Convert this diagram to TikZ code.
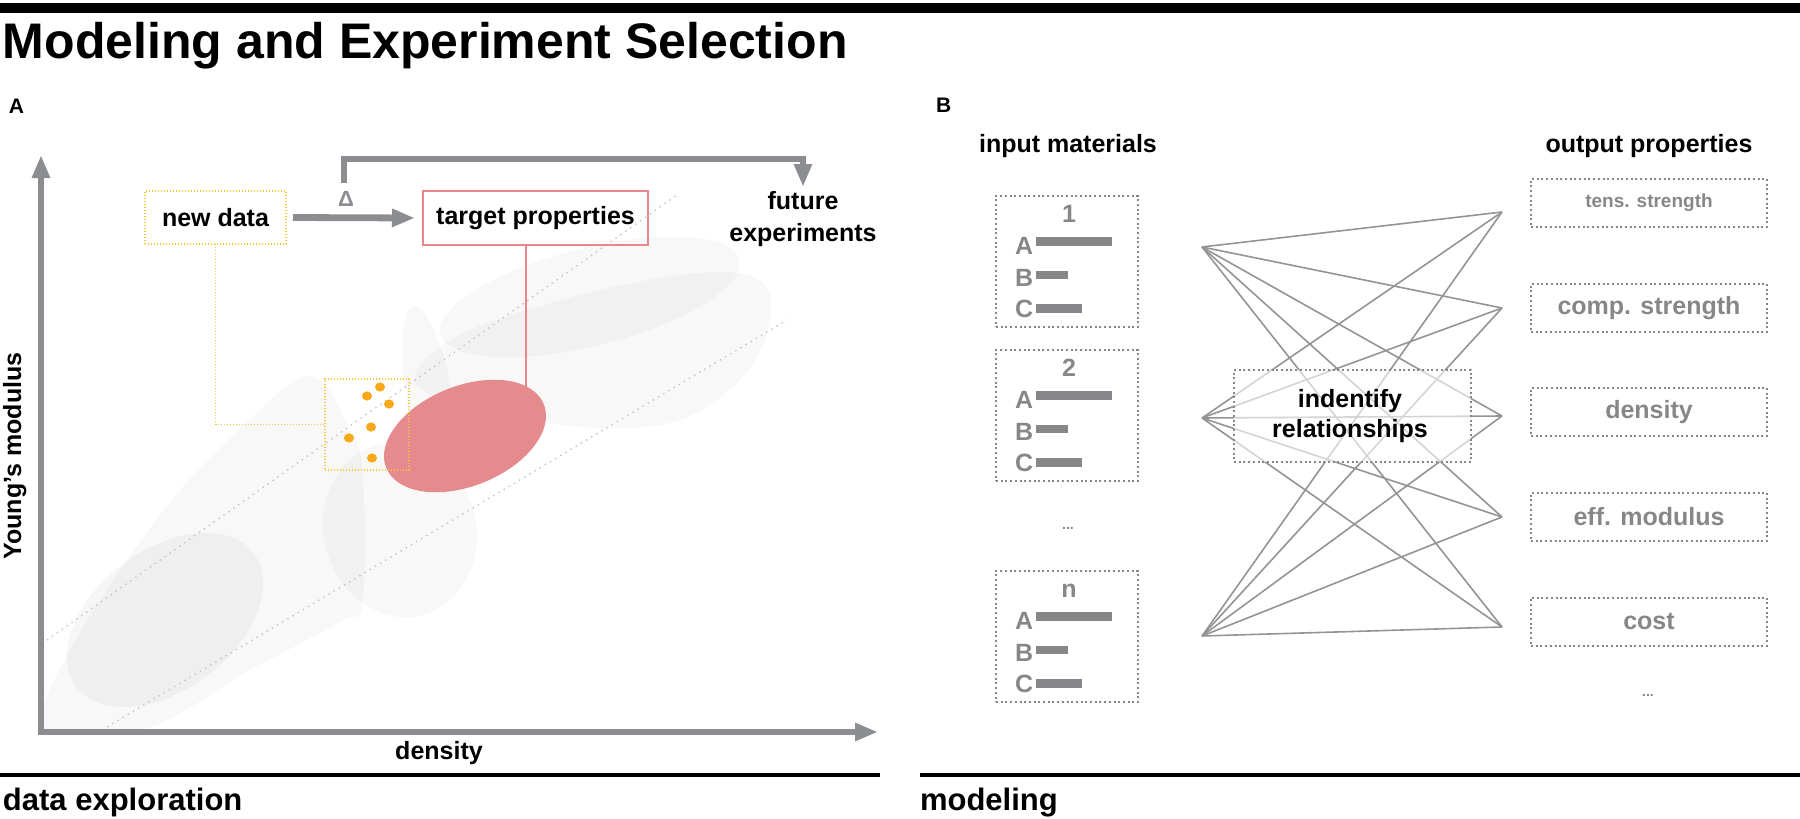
\documentclass[tikz,border=0pt]{standalone}
\usepackage{fontspec}
\setmainfont{Liberation Sans}
\usetikzlibrary{arrows.meta}
\definecolor{axgray}{RGB}{140,141,145}
\definecolor{tgray}{RGB}{135,135,138}
\definecolor{lgray}{RGB}{148,148,150}
\definecolor{dotgray}{RGB}{196,196,196}
\definecolor{orgbox}{RGB}{246,196,70}
\definecolor{orgdot}{RGB}{249,168,26}
\definecolor{pinkline}{RGB}{232,134,140}
\definecolor{pinkfill}{RGB}{229,139,142}
\begin{document}
\begin{tikzpicture}[x=0.5pt,y=-0.5pt,
  every node/.style={inner sep=0pt, outer sep=0pt},
  lblfont/.style={font=\bfseries\fontsize{12.5}{16}\selectfont},
  capfont/.style={font=\bfseries\fontsize{15.5}{18}\selectfont},
  panelfont/.style={font=\bfseries\fontsize{10.5}{12}\selectfont},
  grayfont/.style={font=\bfseries\fontsize{12.5}{15}\selectfont, text=tgray},
  garrow/.style={draw=axgray, line width=3.4pt, line join=miter, -{Triangle[length=11.5pt,width=8.5pt]}},
  blob/.style={fill=black, fill opacity=0.026},
  gbox/.style={draw=tgray, line width=1pt, dash pattern=on 1pt off 1.35pt},
  obox/.style={draw=orgbox, line width=0.6pt, dash pattern=on 0.6pt off 0.9pt},
  diag/.style={draw=dotgray, line width=0.7pt, dash pattern=on 0.7pt off 2.3pt},
  netline/.style={draw=lgray, line width=0.8pt},
  sepline/.style={draw=black, line width=1.6pt}
]
\useasboundingbox (0,0) rectangle (1800,819);

% top bar and title
\fill[black] (0,3) rectangle (1800,13);
\node[anchor=base west, font=\bfseries\fontsize{25}{30}\selectfont] (title) at (3,58) {Modeling and Experiment Selection};

% ---------------- Panel A ----------------
\node[panelfont, anchor=base west] (labA) at (9,113) {A};

% background blobs
\begin{scope}
\clip (44,150) rectangle (900,729);
\fill[blob] plot[smooth cycle, tension=0.6] coordinates {(45,700) (100,600) (180,490) (260,410) (300,378) (325,385) (345,420) (362,465) (363,600) (340,622) (250,670) (150,727) (45,735)};
\fill[fill=black, fill opacity=0.035, rotate around={37:(165,620)}] (165,620) ellipse (111 and 70);
\fill[blob, rotate around={15:(400,530)}] (400,530) ellipse (76 and 88);
\fill[blob, rotate around={14:(590,297)}] (590,297) ellipse (154 and 49);
\fill[blob] plot[smooth cycle, tension=0.6] coordinates {(417,370) (470,330) (600,290) (713,272) (765,285) (768,330) (740,380) (680,420) (600,428) (500,415) (430,395)};
\fill[blob, rotate around={10:(430,400)}] (430,400) ellipse (23 and 95);
\end{scope}

% dotted diagonal guide lines
\coordinate (d1a) at (47,640); \coordinate (d1b) at (677,195);
\coordinate (d2a) at (102,730); \coordinate (d2b) at (787,320);
\draw[diag] (d1a) -- (d1b);
\draw[diag] (d2a) -- (d2b);

% axes
\coordinate (ytop) at (41,155);
\coordinate (orig) at (41,732);
\coordinate (xend) at (878,732);
\draw[draw=axgray, line width=3.4pt, line join=miter, {Triangle[length=11.5pt,width=8.5pt]}-{Triangle[length=11.5pt,width=8.5pt]}] (ytop) -- (orig) -- (xend);
\node[lblfont, rotate=90, anchor=base] (ylab) at (21,456) {Young’s modulus};
\node[lblfont, anchor=base] (xlab) at (439,759) {density};

% pink target ellipse
\fill[pinkfill, rotate around={22:(465,436)}] (465,436) ellipse (85 and 50);

% orange selection box and dots
\node[obox, minimum width=42pt, minimum height=45.5pt] (obox) at (367,424.5) {};
\foreach \px/\py in {380/387, 367/396, 389/404, 371/427, 349/438, 372/458}
  \fill[orgdot] (\px,\py) ellipse (5 and 4.6);

% boxes
\node[obox, minimum width=70.5pt, minimum height=26.5pt, lblfont] (newdata) at (215.5,217.5) {new data};
\node[draw=pinkline, line width=1.4pt, minimum width=112.5pt, minimum height=27pt, lblfont] (target) at (535.5,218) {target properties};
\node[lblfont, align=center, anchor=north] (future) at (803,191) {future\\experiments};
\node[font=\bfseries\fontsize{11}{13}\selectfont, text=axgray] (delta) at (346,199) {Δ};

% arrows
\draw[garrow] ([xshift=3.5pt]newdata.east) -- ([xshift=-4pt]target.west);
\coordinate (fb) at (344,183);
\draw[garrow] (fb) -- (344,159) -| ([yshift=2pt]future.north);

% connectors
\draw[obox] (newdata.south) |- (obox.west);
\coordinate (pinktop) at (526,388);
\draw[draw=pinkline, line width=1.1pt] (pinktop |- target.south) -- (pinktop);

% bottom caption A
\coordinate (sepA1) at (0,775); \coordinate (sepA2) at (880,775);
\draw[sepline] (sepA1) -- (sepA2);
\node[capfont, anchor=base west] (capA) at (3,810) {data exploration};

% ---------------- Panel B ----------------
\node[panelfont, anchor=base west] (labB) at (936,112) {B};
\node[lblfont, anchor=base] (inhead) at (1068,152) {input materials};
\node[lblfont, anchor=base] (outhead) at (1649,152) {output properties};

% network points
\coordinate (p1) at (1202,247);
\coordinate (p2) at (1202,418);
\coordinate (pn) at (1202,636);
\coordinate (q1) at (1502,212);
\coordinate (q2) at (1502,308);
\coordinate (q3) at (1502,416);
\coordinate (q4) at (1502,517);
\coordinate (q5) at (1502,627);
\foreach \a in {p1,p2,pn}
  \foreach \b in {q1,q2,q3,q4,q5}
    \draw[netline] (\a) -- (\b);

% identify box
\node[gbox, fill=white, fill opacity=0.6, minimum width=118.5pt, minimum height=46pt] (ident) at (1352.5,416) {};
\node[lblfont, align=center, font=\bfseries\fontsize{12.5}{15}\selectfont] (identtxt) at (1350,416) {indentify\\relationships};

% input boxes
\foreach \t/\lab/\nm in {196/1/in1, 350/2/in2, 571/n/inn}{
  \node[gbox, minimum width=71pt, minimum height=65.5pt, anchor=north west] (\nm) at (996,\t) {};
  \node[grayfont, anchor=base] (\nm-num) at (1069,\t+26) {\lab};
  \node[grayfont, anchor=base west] (\nm-a) at (1015,\t+58) {A};
  \node[grayfont, anchor=base west] (\nm-b) at (1015,\t+90) {B};
  \node[grayfont, anchor=base west] (\nm-c) at (1015,\t+121) {C};
  \fill[tgray] (1036,\t+41) rectangle (1112,\t+50);
  \fill[tgray] (1036,\t+75) rectangle (1068,\t+83);
  \fill[tgray] (1036,\t+108) rectangle (1082,\t+117);
}
\node[font=\bfseries\fontsize{7}{8}\selectfont, text=tgray] (indots) at (1068,528) {...};

% output boxes
\node[gbox, minimum width=118pt, minimum height=24pt, font=\bfseries\fontsize{9.5}{11}\selectfont, text=tgray] (o1) at (1649,203) {tens. strength};
\node[gbox, minimum width=118pt, minimum height=24pt, grayfont] (o2) at (1649,308) {comp. strength};
\node[gbox, minimum width=118pt, minimum height=24pt, grayfont] (o3) at (1649,412) {density};
\node[gbox, minimum width=118pt, minimum height=24pt, grayfont] (o4) at (1649,517) {eff. modulus};
\node[gbox, minimum width=118pt, minimum height=24pt, grayfont] (o5) at (1649,621.5) {cost};
\node[font=\bfseries\fontsize{7}{8}\selectfont, text=tgray] (outdots) at (1648,695) {...};

% bottom caption B
\coordinate (sepB1) at (920,775); \coordinate (sepB2) at (1800,775);
\draw[sepline] (sepB1) -- (sepB2);
\node[capfont, anchor=base west] (capB) at (920,810) {modeling};
\end{tikzpicture}
\end{document}
